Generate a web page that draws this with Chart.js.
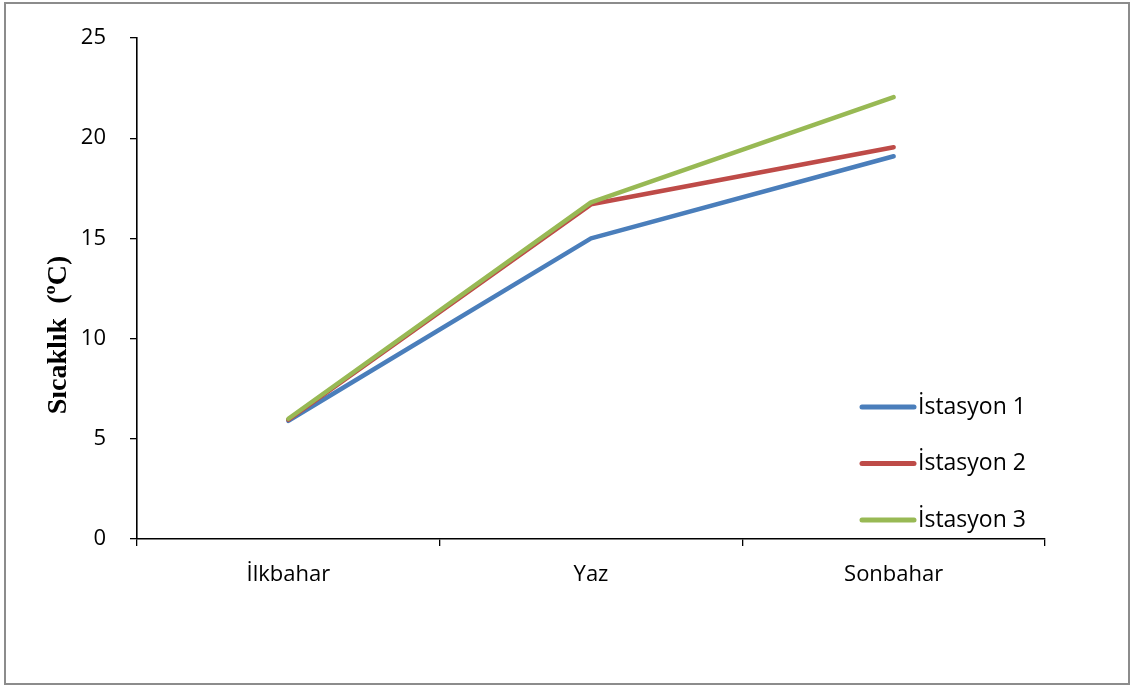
<!DOCTYPE html>
<html>
<head>
<meta charset="utf-8">
<script src="https://cdn.jsdelivr.net/npm/chart.js@4.4.1/dist/chart.umd.min.js"></script>
<style>
  html, body { margin: 0; padding: 0; background: #fff; }
  #wrap { width: 1131px; height: 686px; position: relative; }
</style>
</head>
<body>
<div id="wrap"><canvas id="c" width="1131" height="686"></canvas></div>
<script>
// Mevsimler ve istasyon sıcaklıkları (°C)
const seasons = ['İlkbahar', 'Yaz', 'Sonbahar'];
const station1 = [5.9, 15.0, 19.1];
const station2 = [5.95, 16.7, 19.55];
const station3 = [6.0, 16.8, 22.05];
const seriesNames = ['İstasyon 1', 'İstasyon 2', 'İstasyon 3'];
const seriesColors = ['#4A7EBB', '#BE4B48', '#98B954'];
const yTitle = 'Sıcaklık  (ºC)';

const fontFamily = '"Open Sans", Lato, sans-serif';
const tickFont = { family: fontFamily, size: 22 };

// Dış çerçeve, eksen başlığı ve grafik içi açıklama
const decorations = {
  id: 'decorations',
  beforeDraw(chart) {
    const ctx = chart.ctx;
    ctx.save();
    ctx.fillStyle = '#fff';
    ctx.fillRect(0, 0, chart.width, chart.height);
    ctx.strokeStyle = '#8c8c8c';
    ctx.lineWidth = 2;
    ctx.strokeRect(5, 3, 1124, 681);
    ctx.restore();
  },
  afterDraw(chart) {
    const ctx = chart.ctx;
    const area = chart.chartArea;
    ctx.save();
    // dikey eksen başlığı
    ctx.translate(59, 335);
    ctx.rotate(-Math.PI / 2);
    ctx.font = 'bold 28px "Liberation Serif", "Times New Roman", serif';
    ctx.fillStyle = '#000';
    ctx.textAlign = 'center';
    ctx.textBaseline = 'middle';
    ctx.fillText(yTitle, 0, 0);
    ctx.restore();

    // açıklama (legend)
    ctx.save();
    const x0 = area.right - 183;
    chart.data.datasets.forEach((ds, i) => {
      const y = area.top + 369 + i * 56.5;
      ctx.strokeStyle = ds.borderColor;
      ctx.lineWidth = 5;
      ctx.lineCap = 'round';
      ctx.beginPath();
      ctx.moveTo(x0, y);
      ctx.lineTo(x0 + 52, y);
      ctx.stroke();
      ctx.fillStyle = '#000';
      ctx.font = '23px ' + fontFamily;
      ctx.textAlign = 'left';
      ctx.textBaseline = 'middle';
      ctx.fillText(ds.label, x0 + 56, y);
    });
    ctx.restore();
  }
};

const datasets = [station1, station2, station3].map((vals, i) => ({
  label: seriesNames[i],
  data: vals,
  borderColor: seriesColors[i],
  backgroundColor: seriesColors[i],
  borderWidth: 4.5,
  borderCapStyle: 'round',
  borderJoinStyle: 'round',
  pointRadius: 0,
  tension: 0,
  fill: false,
  order: 3 - i
}));

new Chart(document.getElementById('c'), {
  type: 'line',
  data: { labels: seasons, datasets },
  options: {
    responsive: false,
    animation: false,
    devicePixelRatio: 1,
    layout: { padding: { left: 0, top: 38, right: 86, bottom: 0 } },
    plugins: {
      legend: { display: false },
      tooltip: { enabled: false }
    },
    scales: {
      x: {
        offset: true,
        grid: {
          offset: true,
          drawOnChartArea: false,
          drawTicks: true,
          tickLength: 7,
          color: '#000',
          lineWidth: 1.3
        },
        border: { color: '#000', width: 1.6 },
        ticks: { color: '#000', font: tickFont, padding: 16, maxRotation: 0 },
        afterFit(scale) { scale.height = 147; }
      },
      y: {
        min: 0,
        max: 25,
        grid: {
          drawOnChartArea: false,
          drawTicks: true,
          tickLength: 7,
          color: '#000',
          lineWidth: 1.3
        },
        border: { color: '#000', width: 1.6 },
        ticks: { stepSize: 5, color: '#000', font: tickFont, padding: 24 },
        afterFit(scale) { scale.width = 137; }
      }
    }
  },
  plugins: [decorations]
});
</script>
</body>
</html>
